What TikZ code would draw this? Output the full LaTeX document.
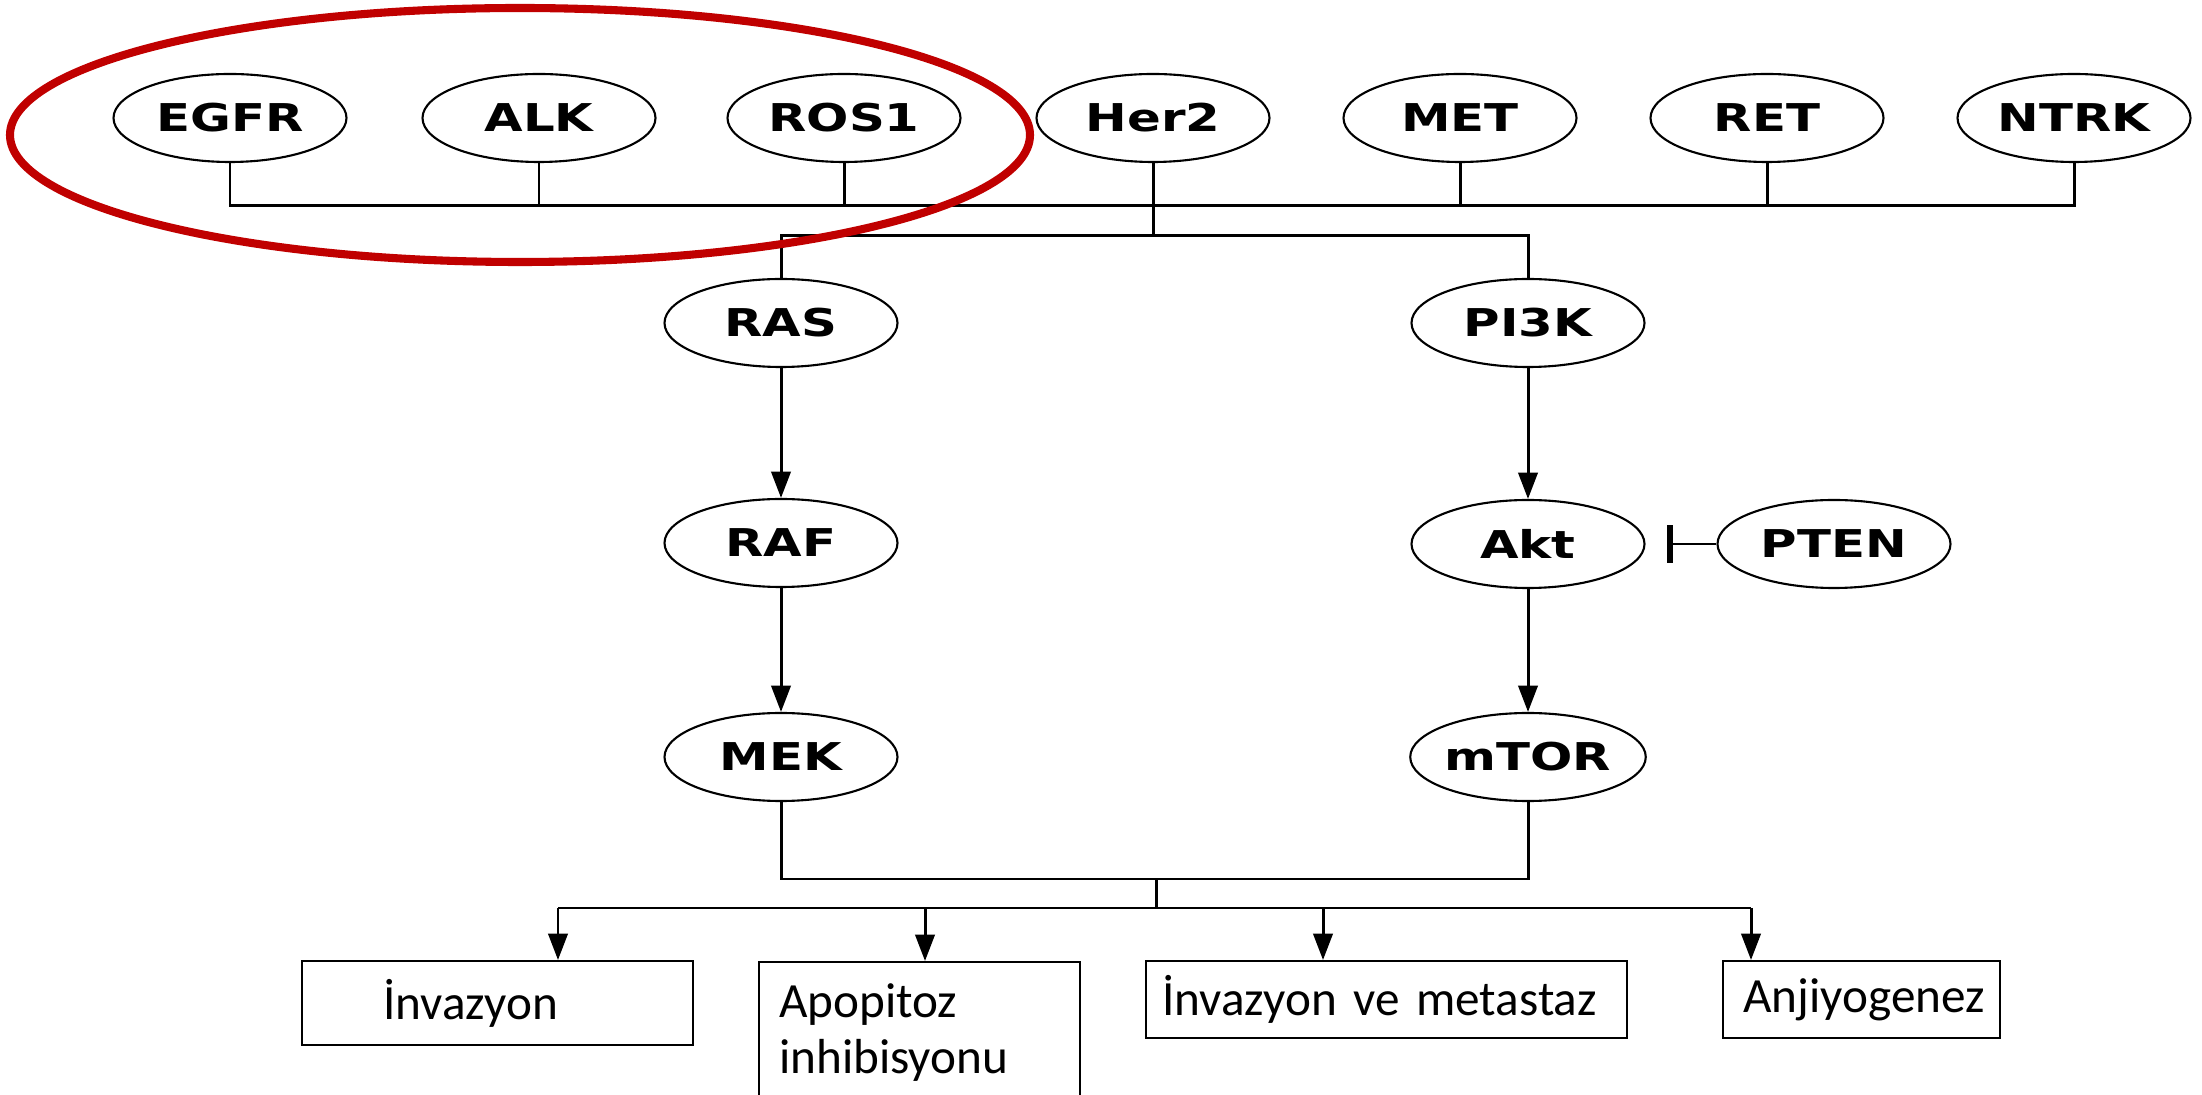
\documentclass[tikz,border=0pt]{standalone}
\usepackage{fontspec}
\usetikzlibrary{arrows.meta,positioning,calc,shapes.geometric}
\newfontfamily\genefont[FakeStretch=1.3]{DejaVu Sans}
\newfontfamily\labelfont[WordSpace={0.8,0,0}]{Carlito}
\definecolor{ringred}{RGB}{192,0,0}
\tikzset{every picture/.style={line width=0.85pt}}
\tikzset{
  gene/.style={draw, ellipse, line width=0.6pt, minimum width=2.33cm, minimum height=0.88cm,
    inner sep=0pt, font=\genefont\bfseries\fontsize{10.9}{12}\selectfont},
  outcome/.style={draw, rectangle, line width=0.7pt, anchor=north west, inner ysep=0pt,
    align=left, font=\labelfont\fontsize{14}{16}\selectfont},
  act/.style={-{Triangle[length=7.5pt,width=5.5pt]}},
  inh/.style={-{Bar[width=3.8mm,line width=1.7pt]}, shorten >=2.1mm},
}

\begin{document}
\begin{tikzpicture}
    \useasboundingbox (0,0) rectangle (22.02,-10.95);

    % 受体
    \node[gene] (egfr) at (2.30,-1.18) {EGFR};
    \node[gene] (alk)  at (5.39,-1.18) {ALK};
    \node[gene] (ros1) at (8.44,-1.18) {ROS1};
    \node[gene] (her2) at (11.53,-1.18) {Her2};
    \node[gene] (met)  at (14.60,-1.18) {MET};
    \node[gene] (ret)  at (17.67,-1.18) {RET};
    \node[gene] (ntrk) at (20.74,-1.18) {NTRK};

    % 两条通路
    \node[gene] (ras)  at (7.81,-3.23) {RAS};
    \node[gene] (raf)  at (7.81,-5.43) {RAF};
    \node[gene] (mek)  at (7.81,-7.57) {MEK};
    \node[gene] (pi3k) at (15.28,-3.23) {PI3K};
    \node[gene] (akt)  at (15.28,-5.44) {Akt};
    \node[gene] (mtor) at (15.28,-7.57) {mTOR};
    \node[gene] (pten) at (18.34,-5.44) {PTEN};

    % 结果
    \node[outcome, inner xsep=0.81cm, text width=2.29cm, minimum height=0.84cm] (out1) at (3.01,-9.60) {İnvazyon};
    \node[outcome, inner xsep=0.20cm, text width=2.81cm, minimum height=1.40cm] (out2) at (7.58,-9.61) {Apopitoz\\inhibisyonu};
    \node[outcome, inner xsep=0.16cm, text width=4.49cm, minimum height=0.77cm] (out3) at (11.45,-9.60) {İnvazyon ve metastaz};
    \node[outcome, inner xsep=0.20cm, text width=2.37cm, minimum height=0.77cm] (out4) at (17.22,-9.60) {Anjiyogenez};

    % 总线
    \coordinate (bus1) at (0,-2.06);
    \coordinate (bus2) at (0,-2.36);
    \coordinate (bus3) at (0,-8.79);
    \coordinate (mid)  at (11.56,-8.79);
    \coordinate (o1) at (5.58,-9.08);
    \coordinate (o2) at (9.25,-9.08);
    \coordinate (o3) at (13.23,-9.08);
    \coordinate (o4) at (17.51,-9.08);

    \draw (egfr.south) -- (egfr |- bus1) -- (ntrk |- bus1) -- (ntrk.south);
    \foreach \g in {alk,ros1,her2,met,ret}
        \draw (\g.south) -- (\g |- bus1);
    \draw (her2 |- bus1) -- (her2 |- bus2);
    \draw (ras.north) |- (pi3k |- bus2) -- (pi3k.north);

    % 信号传递
    \draw[act] (ras) -- (raf);
    \draw[act] (raf) -- (mek);
    \draw[act] (pi3k) -- (akt);
    \draw[act] (akt) -- (mtor);
    \draw[inh] (pten) -- (akt);

    % 汇合到结果
    \draw (mek.south) |- (mtor |- bus3) -- (mtor.south);
    \draw (mid) -- (mid |- o1);
    \draw (o1) -- (o4);
    \foreach \i in {1,...,4}
        \draw[act] (o\i) -- (o\i |- out\i.north);

    % 标记
    \draw[ringred, line width=2.3pt] (5.20,-1.35) ellipse (5.10 and 1.27);
\end{tikzpicture}
\end{document}
